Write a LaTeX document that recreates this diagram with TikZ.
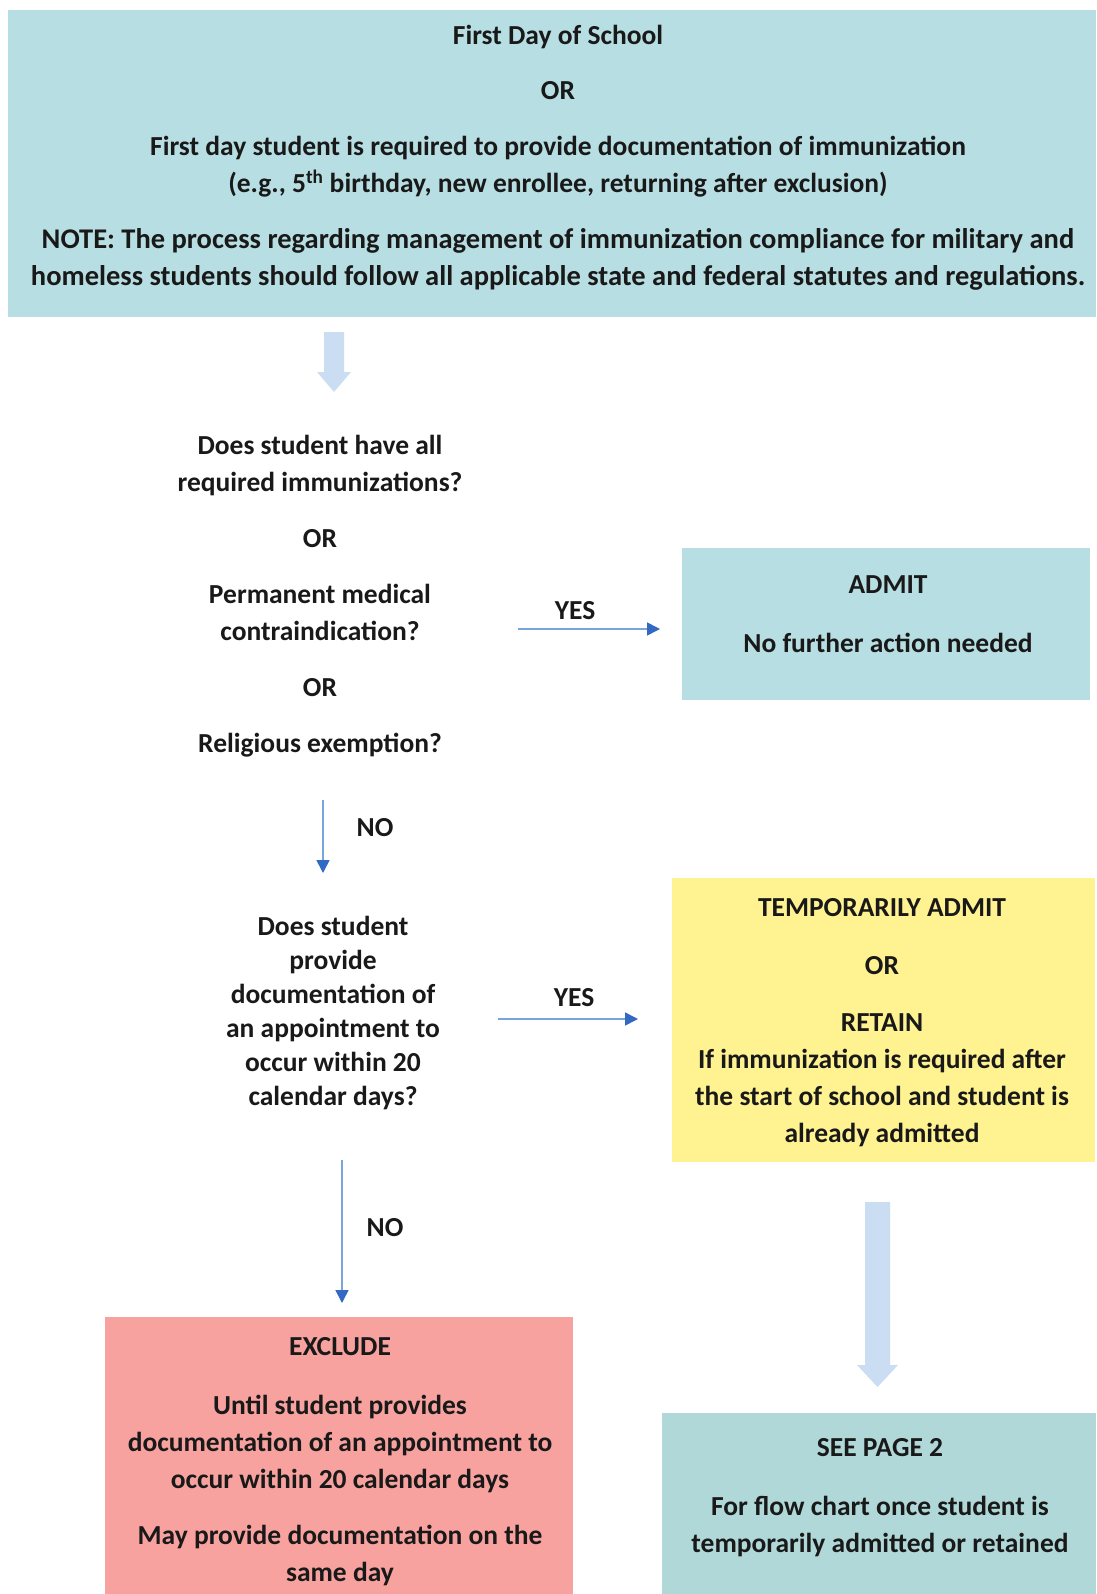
\documentclass[tikz,border=0pt]{standalone}
\usepackage{fontspec}
\setmainfont{Carlito}
\usetikzlibrary{arrows.meta}
\definecolor{boxblue}{RGB}{183,222,226}
\definecolor{boxyellow}{RGB}{255,242,145}
\definecolor{boxred}{RGB}{247,162,158}
\definecolor{boxteal}{RGB}{176,216,216}
\definecolor{fatblue}{RGB}{202,221,242}
\definecolor{lineblue}{RGB}{120,165,220}
\definecolor{tipblue}{RGB}{50,105,195}
\definecolor{ink}{RGB}{25,25,25}
\tikzset{
  boxnode/.style={draw=none, inner sep=0pt, outer sep=0pt},
  txt/.style={align=center, text=ink, inner sep=0pt, font=\bfseries\fontsize{27.5}{37}\selectfont},
  txttight/.style={txt, font=\bfseries\fontsize{27.5}{34}\selectfont},
  thinarrow/.style={draw=lineblue, line width=1.6pt, -{Triangle[length=13pt,width=13pt,color=tipblue,fill=tipblue]}},
}
\begin{document}
\begin{tikzpicture}[x=1pt,y=-1pt]
\fill[white] (0,0) rectangle (1096,1594);
\useasboundingbox (0,0) rectangle (1096,1594);

% boxes
\node[boxnode, fill=boxblue, minimum width=1088pt, minimum height=307pt] (tb) at (552,163.5) {};
\node[boxnode, fill=boxblue, minimum width=408pt, minimum height=152pt] (admit) at (886,624) {};
\node[boxnode, fill=boxyellow, minimum width=423pt, minimum height=284pt] (temp) at (883.5,1020) {};
\node[boxnode, fill=boxred, minimum width=468pt, minimum height=277pt] (excl) at (339,1455.5) {};
\node[boxnode, fill=boxteal, minimum width=434pt, minimum height=181pt] (see) at (879,1503.5) {};

% texts
\node[txt] (tbt) at (558,158) {First Day of School\\[18pt]OR\\[19pt]First day student is required to provide documentation of immunization\\(e.g., 5\textsuperscript{th} birthday, new enrollee, returning after exclusion)\\[19pt]{\fontsize{28.5}{37}\selectfont NOTE: The process regarding management of immunization compliance for military and}\\{\fontsize{28.5}{37}\selectfont homeless students should follow all applicable state and federal statutes and regulations.}};

\node[txt] (q1) at (320,596.5) {Does student have all\\required immunizations?\\[19pt]OR\\[19pt]Permanent medical\\contraindication?\\[19pt]OR\\[19pt]Religious exemption?};

\node[txt] (admitt) at (888,614.5) {ADMIT\\[22pt]No further action needed};

\node[txttight] (q2) at (333,1013) {Does student\\provide\\documentation of\\an appointment to\\occur within 20\\calendar days?};

\node[txt] (tempt) at (882,1023) {TEMPORARILY ADMIT\\[21pt]OR\\[20pt]RETAIN\\If immunization is required after\\the start of school and student is\\already admitted};

\node[txt] (exclt) at (340,1462) {EXCLUDE\\[22pt]Until student provides\\documentation of an appointment to\\occur within 20 calendar days\\[19pt]May provide documentation on the\\same day};

\node[txt] (seet) at (880,1498) {SEE PAGE 2\\[22pt]For flow chart once student is\\temporarily admitted or retained};

% labels
\node[txt] (yes1) at (575,611) {YES};
\node[txt] (yes2) at (574,998) {YES};
\node[txt] (no1) at (375,828) {NO};
\node[txt] (no2) at (385,1228) {NO};

% thin arrows
\coordinate (y1s) at (518,629);
\coordinate (y1e) at (660,629);
\coordinate (y2s) at (498,1019);
\coordinate (y2e) at (638,1019);
\coordinate (n1s) at (323,800);
\coordinate (n1e) at (323,873);
\coordinate (n2s) at (342,1160);
\coordinate (n2e) at (342,1303);
\draw[thinarrow] (y1s) -- (y1e);
\draw[thinarrow] (y2s) -- (y2e);
\draw[thinarrow] (n1s) -- (n1e);
\draw[thinarrow] (n2s) -- (n2e);

% fat arrows
\coordinate (f1) at (334,332);
\fill[fatblue] (f1) ++(-10,0) -- ++(20,0) -- ++(0,40) -- ++(7,0) -- ++(-17,20) -- ++(-17,-20) -- ++(7,0) -- cycle;
\coordinate (f2) at (877.5,1202);
\fill[fatblue] (f2) ++(-12.5,0) -- ++(25,0) -- ++(0,163) -- ++(8,0) -- ++(-20.5,22) -- ++(-20.5,-22) -- ++(8,0) -- cycle;
\end{tikzpicture}
\end{document}
